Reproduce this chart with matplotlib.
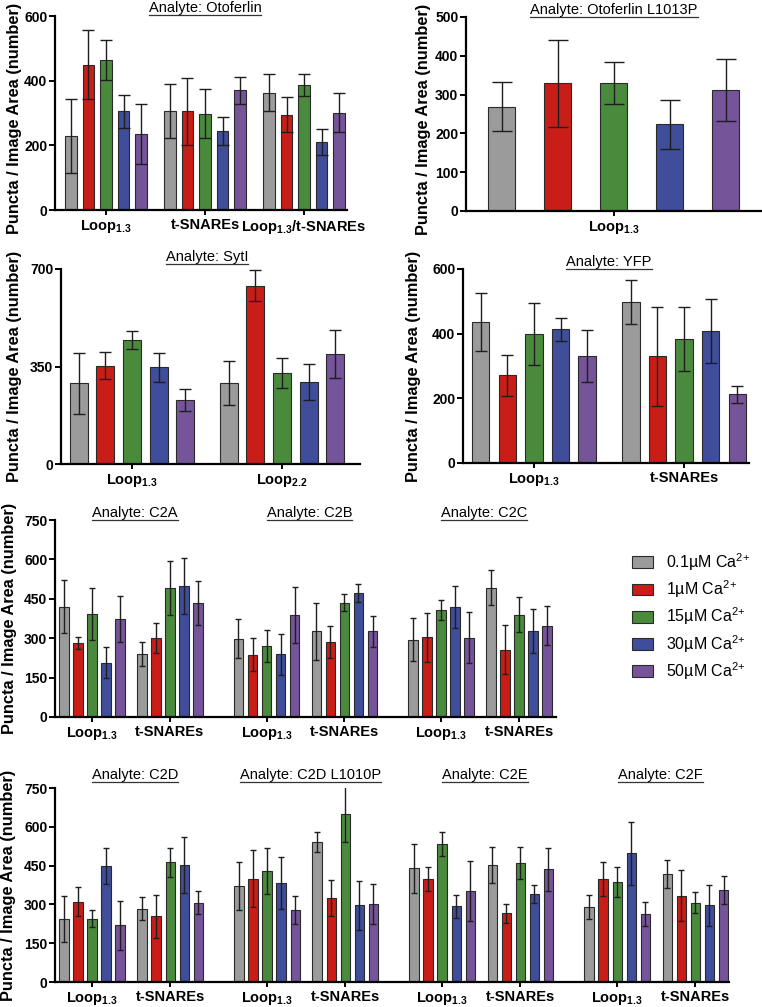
import matplotlib
matplotlib.use('Agg')
import matplotlib.pyplot as plt
from matplotlib.patches import Patch
from matplotlib.lines import Line2D
import matplotlib.transforms as mtransforms

plt.rcParams['font.family'] = ['Liberation Sans', 'DejaVu Sans']
plt.rcParams['mathtext.default'] = 'regular'

W, H = 762, 1007

conditions = ['0.1µM Ca$^{2\\!+}$', '1µM Ca$^{2\\!+}$', '15µM Ca$^{2\\!+}$', '30µM Ca$^{2\\!+}$', '50µM Ca$^{2\\!+}$']
colors = ['#9b9b9b', '#c91d17', '#4a8a3c', '#3f4d9a', '#765499']
LOOP = 'Loop$_{1.3}$'

# Otoferlin
oto_groups = [LOOP, 't-SNAREs', LOOP + '/t-SNAREs']
oto_mean = [[229, 450, 464, 306, 235], [307, 305, 298, 244, 370], [363, 295, 388, 211, 301]]
oto_err = [[115, 107, 61, 51, 92], [84, 104, 75, 44, 42], [58, 55, 34, 41, 61]]

# Otoferlin L1013P
l1013p_groups = [LOOP]
l1013p_mean = [269, 329, 331, 223, 311]
l1013p_err = [64, 112, 54, 62, 80]

# SytI
syt_groups = [LOOP, 'Loop$_{2.2}$']
syt_mean = [[290, 353, 446, 347, 230], [291, 640, 327, 294, 395]]
syt_err = [[110, 48, 32, 51, 40], [79, 55, 54, 65, 86]]

# YFP
yfp_groups = [LOOP, 't-SNAREs']
yfp_mean = [[435, 271, 398, 413, 331], [498, 330, 385, 409, 212]]
yfp_err = [[90, 63, 96, 37, 81], [67, 153, 99, 99, 26]]

# C2 domains, each analyte has (Loop1.3, t-SNAREs)
pair_groups = [LOOP, 't-SNAREs']
row3_names = ['C2A', 'C2B', 'C2C']
c2a_mean = [[420, 281, 393, 207, 373], [239, 300, 490, 499, 435]]
c2a_err = [[100, 22, 100, 59, 87], [46, 57, 103, 107, 84]]
c2b_mean = [[298, 237, 269, 239, 387], [326, 285, 435, 473, 326]]
c2b_err = [[75, 63, 61, 78, 107], [109, 60, 33, 35, 60]]
c2c_mean = [[294, 303, 407, 419, 302], [492, 256, 390, 327, 348]]
c2c_err = [[82, 92, 38, 80, 97], [67, 93, 68, 85, 74]]

row4_names = ['C2D', 'C2D L1010P', 'C2E', 'C2F']
c2d_mean = [[243, 311, 245, 448, 219], [284, 254, 463, 453, 307]]
c2d_err = [[89, 55, 32, 70, 96], [43, 84, 56, 109, 44]]
c2dl_mean = [[370, 400, 429, 382, 278], [541, 325, 651, 296, 302]]
c2dl_err = [[93, 110, 89, 101, 54], [37, 71, 108, 96, 77]]
c2e_mean = [[439, 398, 533, 292, 351], [452, 266, 460, 339, 436]]
c2e_err = [[94, 48, 46, 43, 116], [68, 37, 63, 35, 83]]
c2f_mean = [[290, 398, 387, 497, 263], [417, 333, 307, 297, 356]]
c2f_err = [[45, 67, 59, 122, 47], [55, 99, 42, 79, 54]]

YLABEL = 'Puncta / Image Area (number)'

fig = plt.figure(figsize=(W / 100, H / 100), dpi=100)
titles = []


def make_ax(left, top, right, bottom):
    # box given in figure pixels
    return fig.add_axes([left / W, 1 - bottom / H, (right - left) / W, (bottom - top) / H])


def style(ax, box, yticks, label_px, label_y=0.5):
    left, top, right, bottom = box
    for s in ['top', 'right']:
        ax.spines[s].set_visible(False)
    for s in ['left', 'bottom']:
        ax.spines[s].set_linewidth(1.6)
    ax.set_ylim(yticks[0], yticks[-1])
    ax.set_yticks(yticks)
    ax.tick_params(axis='y', length=4, width=1.4, pad=1.5, labelsize=10)
    ax.tick_params(axis='x', length=3.5, width=1.4, pad=2, labelsize=10.5)
    for lab in ax.get_yticklabels():
        lab.set_fontweight('bold')
    ax.set_ylabel(YLABEL, fontsize=11.8, fontweight='bold')
    ax.yaxis.set_label_coords((label_px - left) / (right - left), label_y)


def draw_bars(ax, centers, means, errs, step, width, capsize):
    for i in range(5):
        xs = [c + (i - 2) * step for c in centers]
        ax.bar(xs, [m[i] for m in means], width, yerr=[e[i] for e in errs],
               color=colors[i], edgecolor='#2a2a2a', linewidth=0.8,
               error_kw=dict(ecolor='#1e1e1e', elinewidth=1.0, capsize=capsize, capthick=1.0))


def add_title(ax, x, y, name, trans):
    t = ax.text(x, y, 'Analyte: ' + name, transform=trans, ha='center', va='bottom', fontsize=10.5)
    titles.append(t)


# Row 1 left: Otoferlin
box = (55, 16, 347, 210)
ax = make_ax(*box)
centers = list(range(len(oto_groups)))
draw_bars(ax, centers, oto_mean, oto_err, 0.177, 0.12, 4.3)
ax.set_xlim(-0.515, 2.434)
ax.set_xticks(centers)
ax.set_xticklabels(oto_groups, fontweight='bold')
style(ax, box, [0, 200, 400, 600], 22, 0.47)
add_title(ax, 0.514, 1.005, 'Otoferlin', ax.transAxes)

# Row 1 right: Otoferlin L1013P
box = (466, 17, 761, 211)
ax = make_ax(*box)
draw_bars(ax, [0], [l1013p_mean], [l1013p_err], 1.0, 0.48, 7)
ax.set_xlim(-2.64, 2.63)
ax.set_xticks([0])
ax.set_xticklabels(l1013p_groups, fontweight='bold')
style(ax, box, [0, 100, 200, 300, 400, 500], 431, 0.47)
add_title(ax, 0.502, 1.0, 'Otoferlin L1013P', ax.transAxes)

# Row 2 left: SytI
box = (61, 269, 360, 464)
ax = make_ax(*box)
centers = list(range(len(syt_groups)))
draw_bars(ax, centers, syt_mean, syt_err, 0.177, 0.12, 4.5)
ax.set_xlim(-0.473, 1.52)
ax.set_xticks(centers)
ax.set_xticklabels(syt_groups, fontweight='bold')
style(ax, box, [0, 350, 700], 22)
add_title(ax, 0.488, 1.026, 'SytI', ax.transAxes)

# Row 2 right: YFP
box = (463, 269, 749, 463)
ax = make_ax(*box)
centers = list(range(len(yfp_groups)))
draw_bars(ax, centers, yfp_mean, yfp_err, 0.177, 0.115, 4.5)
ax.set_xlim(-0.473, 1.433)
ax.set_xticks(centers)
ax.set_xticklabels(yfp_groups, fontweight='bold')
style(ax, box, [0, 200, 400, 600], 421)
add_title(ax, 0.51, 1.0, 'YFP', ax.transAxes)

PAIR_STEP = 2.24

# Row 3: C2A, C2B, C2C
box = (55, 520, 556, 717)
ax = make_ax(*box)
row3_mean = [c2a_mean, c2b_mean, c2c_mean]
row3_err = [c2a_err, c2b_err, c2c_err]
centers, means, errs, labels = [], [], [], []
for p in range(len(row3_names)):
    for k in range(2):
        centers.append(p * PAIR_STEP + k)
        means.append(row3_mean[p][k])
        errs.append(row3_err[p][k])
        labels.append(pair_groups[k])
draw_bars(ax, centers, means, errs, 0.18, 0.12, 2.2)
ax.set_xlim(-0.474, centers[-1] + 0.474)
ax.set_xticks(centers)
ax.set_xticklabels(labels, fontweight='bold')
style(ax, box, [0, 150, 300, 450, 600, 750], 17)
trans = mtransforms.blended_transform_factory(ax.transData, ax.transAxes)
for p, name in enumerate(row3_names):
    add_title(ax, p * PAIR_STEP + 0.55, 1.0, name, trans)

# Row 4: C2D, C2D L1010P, C2E, C2F
box = (55, 788, 729, 982)
ax = make_ax(*box)
row4_mean = [c2d_mean, c2dl_mean, c2e_mean, c2f_mean]
row4_err = [c2d_err, c2dl_err, c2e_err, c2f_err]
centers, means, errs, labels = [], [], [], []
for p in range(len(row4_names)):
    for k in range(2):
        centers.append(p * PAIR_STEP + k)
        means.append(row4_mean[p][k])
        errs.append(row4_err[p][k])
        labels.append(pair_groups[k])
draw_bars(ax, centers, means, errs, 0.18, 0.12, 2.2)
ax.set_xlim(-0.474, centers[-1] + 0.43)
ax.set_xticks(centers)
ax.set_xticklabels(labels, fontweight='bold')
style(ax, box, [0, 150, 300, 450, 600, 750], 16)
trans = mtransforms.blended_transform_factory(ax.transData, ax.transAxes)
for p, name in enumerate(row4_names):
    add_title(ax, p * PAIR_STEP + 0.55, 1.03, name, trans)

# legend
handles = [Patch(facecolor=c, edgecolor='#2a2a2a', linewidth=0.8) for c in colors]
fig.legend(handles, conditions, loc='upper left', bbox_to_anchor=(632 / W, 1 - 551 / H),
           frameon=False, fontsize=11.5, handlelength=1.31, handleheight=0.75,
           handletextpad=0.8, labelspacing=0.35, borderpad=0, borderaxespad=0)

# underline the analyte titles
fig.canvas.draw()
renderer = fig.canvas.get_renderer()
inv = fig.transFigure.inverted()
for t in titles:
    bb = t.get_window_extent(renderer)
    x0, y0 = inv.transform((bb.x0, bb.y0))
    x1, _ = inv.transform((bb.x1, bb.y0))
    fig.add_artist(Line2D([x0, x1], [y0, y0], color='#333333', linewidth=0.9))

fig.savefig('out.png', dpi=100)
